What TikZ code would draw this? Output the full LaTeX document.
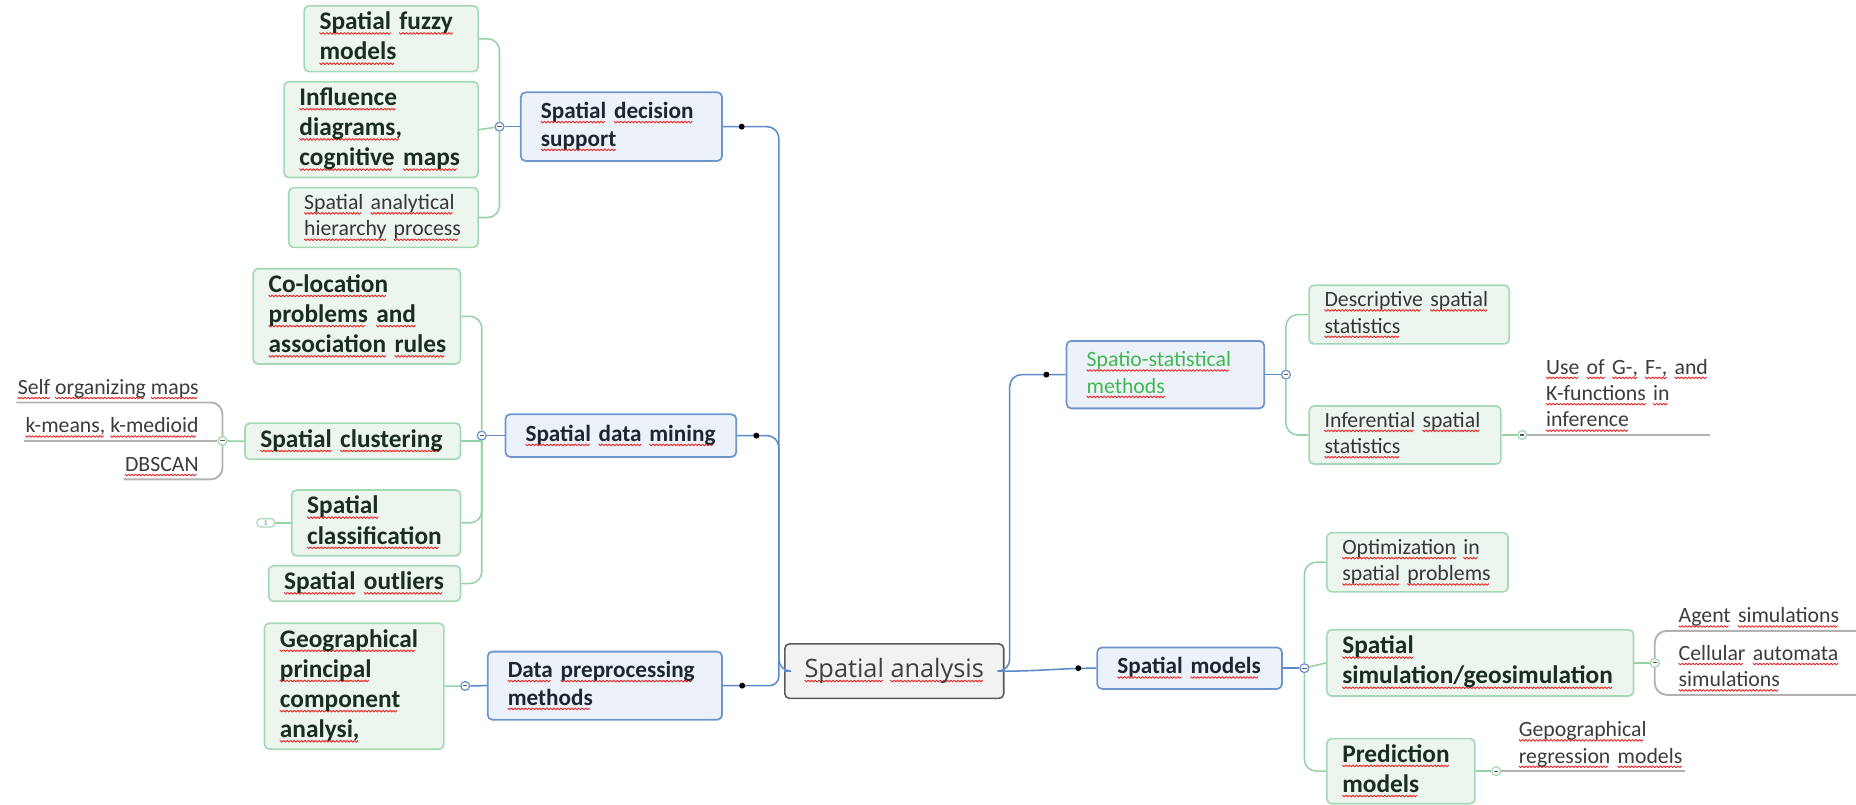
\documentclass[tikz,border=0pt]{standalone}
\usepackage{fontspec}
\setmainfont{Carlito}
\newfontfamily\rootfont{Open Sans}
\usepackage{xcolor}
\usetikzlibrary{positioning, calc}

\definecolor{topicfill}{RGB}{237,242,250}
\definecolor{topicedge}{RGB}{110,150,205}
\definecolor{topictext}{RGB}{30,38,50}
\definecolor{subfill}{RGB}{236,245,238}
\definecolor{subedge}{RGB}{165,216,180}
\definecolor{subtext}{RGB}{27,45,32}
\definecolor{plaintext}{RGB}{55,55,55}
\definecolor{leaftext}{RGB}{60,60,60}
\definecolor{stattext}{RGB}{64,184,80}
\definecolor{linkblue}{RGB}{91,138,200}
\definecolor{linkgreen}{RGB}{150,210,165}
\definecolor{leafgray}{RGB}{178,178,178}
\definecolor{rootfill}{RGB}{242,242,242}
\definecolor{rootedge}{RGB}{90,90,90}

\newcommand\topicsize{\fontsize{19.6}{23.5}\selectfont}
\newcommand\subsize{\fontsize{21.4}{25.5}\selectfont}
\newcommand\plainsize{\fontsize{18.4}{22.3}\selectfont}

% red spell-check wave under every word
\newsavebox\wordbox
\newcommand\wavepiece{\hbox to 3pt{\special{pdf:content 0.89 0.15 0.15 RG 0.75 w 0 -2.4 m 1.5 -3.9 l 3 -2.4 l S}\hss}}
\newcommand\sq[1]{\sbox\wordbox{#1}\rlap{\hbox to\wd\wordbox{\leaders\wavepiece\hfil}}\usebox\wordbox}
\makeatletter
\def\wv#1{\mbox{\wv@loop#1 \@nil\strut}}
\def\wv@loop#1 #2\@nil{\sq{#1}\ifx\relax#2\relax\else\ \wv@loop#2\@nil\fi}
\makeatother

\tikzset{
  rootbox/.style={draw=rootedge, fill=rootfill, line width=1.3pt, rounded corners=4pt,
    inner sep=2pt, text=black!75, font=\rootfont\fontsize{21.4}{26}\selectfont},
  topic/.style={draw=topicedge, fill=topicfill, line width=1.5pt, rounded corners=4pt,
    inner xsep=17pt, inner ysep=2pt, align=left, text=topictext, font=\topicsize\bfseries},
  sub/.style={draw=subedge, fill=subfill, line width=1.4pt, rounded corners=4pt,
    inner xsep=13pt, inner ysep=2pt, align=left, text=subtext, font=\subsize\bfseries},
  subplain/.style={sub, text=plaintext, font=\plainsize},
  leaf/.style={inner xsep=1pt, inner ysep=0pt, text=leaftext, font=\plainsize},
  mainline/.style={draw=linkblue, line width=1.3pt},
  subline/.style={draw=linkgreen, line width=1.3pt},
  leafline/.style={draw=leafgray, line width=1.6pt},
  collapse/.style={circle, draw=#1, fill=white, line width=1.1pt, minimum size=7.5pt, inner sep=0pt,
    path picture={\draw[black!65, line width=0.9pt]
      ([xshift=-1.8pt]path picture bounding box.center) -- ([xshift=1.8pt]path picture bounding box.center);}},
}

\begin{document}
\begin{tikzpicture}[x=1pt, y=-1pt, line join=round]

    \useasboundingbox (0,0) rectangle (1568,680);

    % --- Central Topic ---
    \node[rootbox, minimum width=185pt, minimum height=46pt] (root) at (755.5,567) {\wv{Spatial analysis}};

    % --- Main Topics ---
    \node[topic, text width=136pt, minimum height=58pt] (dec) at (525,107) {\wv{Spatial decision}\\\wv{support}};
    \node[topic, text width=161pt, minimum height=36pt] (mine) at (524.5,368) {\wv{Spatial data mining}};
    \node[topic, text width=164pt, minimum height=57.5pt] (prep) at (511,579.25) {\wv{Data preprocessing}\\\wv{methods}};
    \node[topic, text=stattext, font=\plainsize, text width=133pt, minimum height=57pt] (stat) at (984.5,316.5) {\wv{Spatio-statistical}\\\wv{methods}};
    \node[topic, text width=122pt, minimum height=35pt] (models) at (1005,564.5) {\wv{Spatial models}};

    % --- Spatial decision support ---
    \node[sub, text width=121pt, minimum height=55.5pt] (fuzzy) at (330.5,32.75) {\wv{Spatial fuzzy}\\\wv{models}};
    \node[sub, text width=138pt, minimum height=81pt] (influence) at (322,109.5) {\wv{Influence}\\\wv{diagrams,}\\\wv{cognitive maps}};
    \node[subplain, text width=134pt, minimum height=50.5pt] (ahp) at (324,183.75) {\wv{Spatial analytical}\\\wv{hierarchy process}};

    % --- Spatial data mining ---
    \node[sub, text width=149pt, minimum height=80.5pt] (colo) at (301.5,267.25) {\wv{Co-location}\\\wv{problems and}\\\wv{association rules}};
    \node[sub, text width=156pt, minimum height=30.5pt] (clus) at (298,372.75) {\wv{Spatial clustering}};
    \node[sub, text width=116.5pt, minimum height=55.5pt] (clas) at (317.75,441.75) {\wv{Spatial}\\\wv{classification}};
    \node[sub, text width=136pt, minimum height=30pt] (outl) at (308,493) {\wv{Spatial outliers}};
    \node[draw=subedge, fill=white, line width=1pt, rounded corners=3pt, minimum width=15pt, minimum height=7pt,
      inner sep=0pt, text=black!60, font=\fontsize{6}{6}\selectfont] (ind) at (224.5,441.75) {1};

    \node[leaf, anchor=south east] (som) at (169,340) {\wv{Self organizing maps}};
    \node[leaf, anchor=south east] (km) at (169,372.5) {\wv{k-means, k-medioid}};
    \node[leaf, anchor=south east] (dbs) at (169,405) {\wv{DBSCAN}};

    % --- Data preprocessing methods ---
    \node[sub, text width=125.5pt, minimum height=106.5pt] (geo) at (299.25,579.75) {\wv{Geographical}\\\wv{principal}\\\wv{component}\\\wv{analysi,}};

    % --- Spatio-statistical methods ---
    \node[subplain, text width=143pt, minimum height=49.5pt] (desc) at (1190.5,265.75) {\wv{Descriptive spatial}\\\wv{statistics}};
    \node[subplain, text width=136pt, minimum height=49pt] (inf) at (1187,367.5) {\wv{Inferential spatial}\\\wv{statistics}};
    \node[leaf, anchor=south west, text width=137pt, align=left] (use) at (1305,367.5) {\wv{Use of G-, F-, and}\\\wv{K-functions in}\\\wv{inference}};

    % --- Spatial models ---
    \node[subplain, text width=127pt, minimum height=50pt] (opt) at (1197.5,475) {\wv{Optimization in}\\\wv{spatial problems}};
    \node[sub, text width=233pt, minimum height=56pt] (sim) at (1250.5,560) {\wv{Spatial}\\\wv{simulation/geosimulation}};
    \node[sub, text width=99pt, minimum height=55pt] (pred) at (1183.5,651.5) {\wv{Prediction}\\\wv{models}};
    \node[leaf, anchor=south west, text width=149pt, align=left] (agent) at (1417,533) {\wv{Agent simulations}};
    \node[leaf, anchor=south west, text width=149pt, align=left] (cell) at (1417,587) {\wv{Cellular automata}\\\wv{simulations}};
    \node[leaf, anchor=south west, text width=139pt, align=left] (gep) at (1282,651.5) {\wv{Gepographical}\\\wv{regression models}};

    % --- Collapse Buttons ---
    \node[collapse=topicedge] (cdec) at (422,107) {};
    \node[collapse=topicedge] (cmine) at (407,368) {};
    \node[collapse=topicedge] (cprep) at (393,579.5) {};
    \node[collapse=topicedge] (cstat) at (1086.4,316.5) {};
    \node[collapse=topicedge] (cmod) at (1102,564.5) {};
    \node[collapse=subedge] (cclus) at (188,372.5) {};
    \node[collapse=subedge] (cinf) at (1286,367.5) {};
    \node[collapse=subedge] (csim) at (1398,560) {};
    \node[collapse=subedge] (cpred) at (1264,651.5) {};

    % --- Main Branches ---
    \coordinate (lsp) at (658,567);
    \coordinate (rsp) at (853,567);
    \draw[mainline, rounded corners=10pt] (dec.east) -| (lsp) -- (root.west);
    \draw[mainline, rounded corners=10pt] (mine.east) -| (lsp);
    \draw[mainline, rounded corners=8pt] (prep.east) -| (lsp);
    \draw[mainline, rounded corners=10pt] (root.east) -- (rsp) |- (stat.west);
    \draw[mainline] (root.east) to[out=0, in=180] (models.west);

    % --- Sub Branches ---
    \draw[mainline] (cdec) -- (dec.west);
    \draw[subline, rounded corners=10pt] (fuzzy.east) -| (cdec) |- (ahp.east);
    \draw[subline] (influence.east) -- (cdec);

    \draw[mainline] (cmine) -- (mine.west);
    \draw[subline, rounded corners=10pt] (colo.east) -| (cmine) |- (outl.east);
    \draw[subline] (clus.east) -| (cmine);
    \draw[subline, rounded corners=10pt] (clas.east) -| (cmine);
    \draw[subline] (ind) -- (clas.west);
    \draw[subline] (cclus) -- (clus.west);
    \draw[leafline, rounded corners=10pt] (som.south west) -| (cclus) |- (dbs.south west);
    \draw[leafline] (km.south west) -- (cclus);

    \draw[mainline] (cprep) -- (prep.west);
    \draw[subline] (geo.east) -- (cprep);

    \draw[mainline] (stat.east) -- (cstat);
    \draw[subline, rounded corners=10pt] (desc.west) -| (cstat) |- (inf.west);
    \draw[subline] (inf.east) -- (cinf);
    \draw[leafline] (cinf) -- (use.south west) -- (use.south east);

    \draw[mainline] (models.east) -- (cmod);
    \draw[subline, rounded corners=10pt] (opt.west) -| (cmod) |- (pred.west);
    \draw[subline] (cmod) -- (sim.west);
    \draw[subline] (sim.east) -- (csim);
    \draw[leafline, rounded corners=10pt] (agent.south east) -- (agent.south west) -| (csim) |- (cell.south west) -- (cell.south east);
    \draw[subline] (pred.east) -- (cpred);
    \draw[leafline] (cpred) -- (gep.south west) -- (gep.south east);

    % --- Connection Dots ---
    \fill (626.6,107) circle[radius=2.5pt];
    \fill (639,368) circle[radius=2.5pt];
    \fill (627,579.25) circle[radius=2.5pt];
    \fill (884,316.5) circle[radius=2.5pt];
    \fill (911,564.5) circle[radius=2.5pt];

\end{tikzpicture}
\end{document}
